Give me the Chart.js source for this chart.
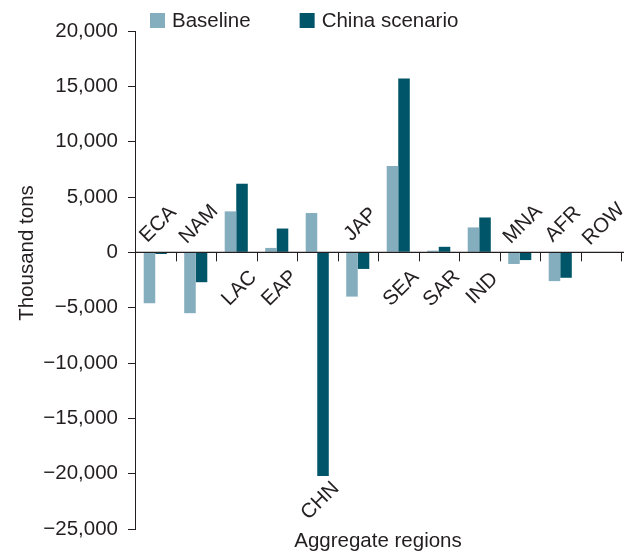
<!DOCTYPE html>
<html>
<head>
<meta charset="utf-8">
<script src="https://cdn.jsdelivr.net/npm/chart.js@4/dist/chart.umd.min.js"></script>
<style>
  html, body { margin: 0; padding: 0; background: #fff; }
  #wrap { width: 626px; height: 555px; position: relative; }
</style>
</head>
<body>
<div id="wrap"><canvas id="grafico"></canvas></div>
<script>
// dados (mil toneladas)
const regioes = ["ECA", "NAM", "LAC", "EAP", "CHN", "JAP", "SEA", "SAR", "IND", "MNA", "AFR", "ROW"];
const baseline = [-4600, -5500, 3700, 400, 3550, -4000, 7800, 150, 2250, -1050, -2600, -30];
const cenarioChina = [-150, -2700, 6200, 2150, -20200, -1500, 15700, 500, 3150, -700, -2300, -60];
const yTicks = [-25000, -20000, -15000, -10000, -5000, 0, 5000, 10000, 15000, 20000];

const FONTE = "'Liberation Sans', Arial, Helvetica, sans-serif";
const TAM = 20.5;
const TEXTO = "#231f20";
const COR_BASE = "#84adbd";
const COR_CHINA = "#005668";

function formatar(v) {
  if (v === 0) return "0";
  const s = Math.abs(v).toLocaleString("en-US");
  return v < 0 ? "\u2212" + s : s;
}

// linha do zero, marcas entre categorias, rótulos inclinados, legenda e títulos
const extras = {
  id: "extras",
  afterDraw(chart) {
    const { ctx, chartArea } = chart;
    const x = chart.scales.x;
    const y = chart.scales.y;
    const n = regioes.length;
    const meio = (chartArea.right - chartArea.left) / n / 2;
    const y0 = y.getPixelForValue(0);

    ctx.save();
    ctx.strokeStyle = TEXTO;
    ctx.lineWidth = 1.4;
    ctx.beginPath();
    ctx.moveTo(chartArea.left, y0);
    ctx.lineTo(chartArea.right + 3, y0);
    ctx.stroke();
    ctx.lineWidth = 1;
    ctx.beginPath();
    for (let i = 1; i <= n; i++) {
      const bx = Math.round(x.getPixelForValue(i - 1) + meio) + 0.5;
      ctx.moveTo(bx, y0);
      ctx.lineTo(bx, y0 + 9);
    }
    ctx.stroke();

    // rótulos das regiões, a 45 graus
    ctx.fillStyle = TEXTO;
    ctx.font = TAM + "px " + FONTE;
    ctx.textAlign = "center";
    ctx.textBaseline = "middle";
    regioes.forEach((r, i) => {
      const vals = [baseline[i], cenarioChina[i]];
      const maxV = Math.max(...vals);
      const minV = Math.min(...vals);
      let ly;
      if (maxV <= 0) ly = y0 - 28;
      else if (minV < 0) ly = y.getPixelForValue(minV) + 25;
      else ly = y0 + 36;
      const lx = x.getPixelForValue(i) + 3;
      ctx.save();
      ctx.translate(lx, ly);
      ctx.rotate(-Math.PI / 4);
      ctx.fillText(r, 0, 0);
      ctx.restore();
    });

    // legenda
    ctx.textAlign = "left";
    let lx = 150;
    chart.data.datasets.forEach((ds) => {
      ctx.fillStyle = ds.backgroundColor;
      ctx.fillRect(lx, 13, 15, 15);
      ctx.fillStyle = TEXTO;
      ctx.fillText(ds.label, lx + 22, 21);
      lx += 22 + ctx.measureText(ds.label).width + 49;
    });

    // títulos dos eixos
    ctx.textAlign = "center";
    ctx.fillText("Aggregate regions", (chartArea.left + chartArea.right) / 2, 541);
    ctx.save();
    ctx.translate(27, 253);
    ctx.rotate(-Math.PI / 2);
    ctx.fillText("Thousand tons", 0, 0);
    ctx.restore();
    ctx.restore();
  },
};

new Chart(document.getElementById("grafico"), {
  type: "bar",
  data: {
    labels: regioes,
    datasets: [
      { label: "Baseline", data: baseline, backgroundColor: COR_BASE, borderWidth: 0 },
      { label: "China scenario", data: cenarioChina, backgroundColor: COR_CHINA, borderWidth: 0 },
    ],
  },
  options: {
    responsive: true,
    maintainAspectRatio: false,
    animation: false,
    datasets: { bar: { categoryPercentage: 0.57, barPercentage: 1.0 } },
    layout: { padding: { top: 31, right: 5, bottom: 26, left: 0 } },
    plugins: { legend: { display: false }, tooltip: { enabled: false } },
    scales: {
      x: { display: false },
      y: {
        min: -25000,
        max: 20000,
        afterFit(s) { s.width = 135; },
        afterBuildTicks(s) { s.ticks = yTicks.map((v) => ({ value: v })); },
        ticks: {
          padding: 10,
          color: TEXTO,
          font: { size: TAM, family: FONTE },
          callback: (v) => formatar(v),
        },
        grid: { drawOnChartArea: false, drawTicks: true, tickLength: 7, color: TEXTO, lineWidth: 1 },
        border: { display: true, color: TEXTO, width: 1 },
      },
    },
  },
  plugins: [extras],
});
</script>
</body>
</html>
